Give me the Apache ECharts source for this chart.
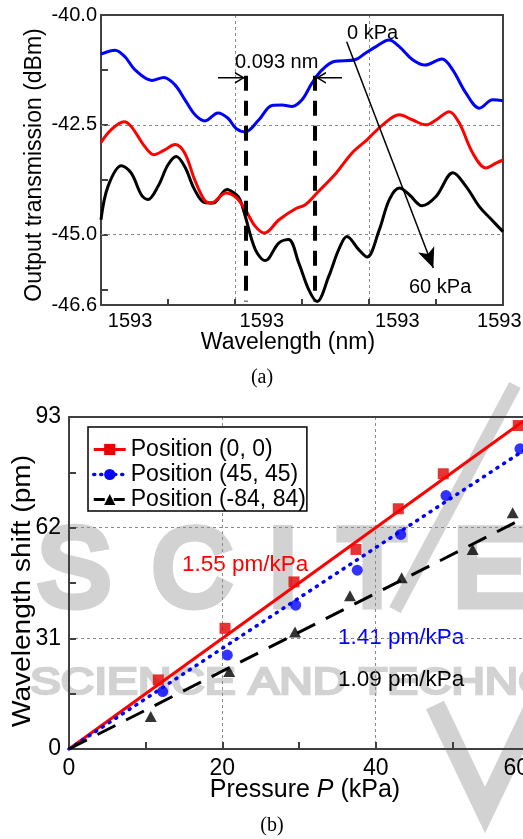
<!DOCTYPE html>
<html><head><meta charset="utf-8">
<script src="https://cdn.jsdelivr.net/npm/echarts@6/dist/echarts.min.js"></script>
<style>html,body{margin:0;padding:0;background:#fff}#c{width:523px;height:839px}</style>
</head><body><div id="c"></div>
<script>
// ---------- Panel (a): spectra (x = wavelength offset in nm) ----------
const wlTickLabels = ['1593', '1593', '1593', '1593'];
const wlTickLabelPos = [0.039, 0.216, 0.398, 0.535];
const dbmLabelValues = [-46.6, -45.0, -42.5, -40.0];
const dbmTickValues = [-46.25, -45.0, -43.75, -42.5, -41.25];
const dbmGridValues = [-42.5, -45.0];

const spec0kPa = [[0,-40.89],[0.0188,-40.80],[0.0322,-40.95],[0.0457,-41.25],[0.0685,-41.49],[0.0846,-41.42],[0.0994,-41.59],[0.1128,-41.93],[0.1263,-42.27],[0.1397,-42.41],[0.1572,-42.23],[0.1706,-42.35],[0.1813,-42.58],[0.1938,-42.66],[0.2118,-42.39],[0.2297,-42.06],[0.2431,-42.05],[0.2566,-42.08],[0.2700,-41.93],[0.2834,-41.55],[0.2969,-41.25],[0.3130,-41.06],[0.3412,-41.02],[0.3550,-40.87],[0.3694,-40.72],[0.3869,-40.57],[0.4007,-40.72],[0.4187,-41.02],[0.4352,-41.14],[0.4581,-41.00],[0.4724,-41.25],[0.4903,-41.78],[0.5084,-42.12],[0.5262,-41.93],[0.5400,-41.95]];
const specMid = [[0,-42.90],[0.0138,-42.61],[0.0309,-42.43],[0.0407,-42.54],[0.0587,-42.99],[0.0712,-43.18],[0.0856,-43.07],[0.0994,-42.95],[0.1124,-43.14],[0.1259,-43.75],[0.1393,-44.22],[0.1478,-44.28],[0.1679,-44.05],[0.1820,-44.16],[0.1938,-44.43],[0.2073,-44.81],[0.2196,-44.96],[0.2391,-44.66],[0.2613,-44.41],[0.2744,-44.32],[0.2901,-44.05],[0.3157,-43.60],[0.3372,-43.14],[0.3573,-42.84],[0.3784,-42.50],[0.4007,-42.27],[0.4187,-42.39],[0.4366,-42.50],[0.4500,-42.39],[0.4679,-42.20],[0.4813,-42.46],[0.4993,-43.14],[0.5172,-43.48],[0.5306,-43.37],[0.5400,-43.30]];
const spec60kPa = [[0,-44.66],[0.0094,-43.90],[0.0275,-43.43],[0.0407,-43.60],[0.0541,-44.09],[0.0631,-44.20],[0.0766,-43.90],[0.0900,-43.41],[0.1011,-43.22],[0.1124,-43.45],[0.1259,-43.98],[0.1393,-44.27],[0.1504,-44.28],[0.1693,-43.97],[0.1817,-44.09],[0.1867,-44.20],[0.1938,-44.58],[0.2073,-45.34],[0.2207,-45.59],[0.2387,-45.19],[0.2519,-45.11],[0.2656,-45.64],[0.2790,-46.25],[0.2902,-46.52],[0.3059,-45.95],[0.3193,-45.34],[0.3304,-45.04],[0.3462,-45.34],[0.3573,-45.51],[0.3738,-44.89],[0.3873,-44.20],[0.4010,-43.94],[0.4141,-44.09],[0.4312,-44.34],[0.4500,-44.13],[0.4728,-43.59],[0.4903,-43.90],[0.5082,-44.36],[0.5225,-44.62],[0.5400,-44.93]];

const dipLine0 = [[0.1948,-41.38],[0.1948,-46.52]];
const dipLine60 = [[0.2875,-41.38],[0.2875,-46.52]];
const arrowLeft = [[0.1572,-41.43],[0.1920,-41.43]];
const arrowRight = [[0.3237,-41.43],[0.2900,-41.43]];
const arrowShift = [[0.3300,-40.607],[0.4464,-45.757]];

// ---------- Panel (b): wavelength shift vs pressure ----------
const p00 = [11.65, 20.35, 29.35, 37.43, 42.95, 48.82, 58.6];
const s00 = [19.35, 33.8, 46.8, 55.9, 67.3, 77.1, 90.6];
const p45 = [12.22, 20.65, 29.57, 37.6, 43.26, 49.17, 58.82];
const s45 = [16.1, 26.3, 40.3, 50.1, 60.1, 71.0, 84.1];
const p84 = [10.66, 20.9, 29.48, 36.65, 43.39, 52.65, 57.87];
const s84 = [9.1, 21.7, 32.8, 42.9, 48.0, 55.9, 66.2];
const fit00 = [[0,0],[60,93]];
const fit45 = [[0,0],[60,84.6]];
const fit84 = [[0,0],[60,65.4]];
const names = ['Position (0, 0)', 'Position (45, 45)', 'Position (-84, 84)'];

const FONT = "'Liberation Sans', Arial, sans-serif";
const AX = '#404040';
const GRIDC = '#8a8a8a';
const WM = '#d2d2d2';
const zip = (a, b) => a.map((v, i) => [v, b[i]]);

const chart = echarts.init(document.getElementById('c'), null, {renderer: 'canvas'});

const frameLine = {show: true, onZero: false, lineStyle: {color: AX, width: 2}};
const gridLineStyle = {color: GRIDC, width: 1, type: [3, 3]};
const chevR = 'path://M0,0L10,6L0,12L0,10.2L7.2,6L0,1.8Z';
const chevL = 'path://M10,0L0,6L10,12L10,10.2L2.8,6L10,1.8Z';

// faint publisher watermark behind panel (b)
const wmLetters = [['S', 74, 575], ['C', 192, 575], ['I', 283, 575], ['T', 372, 575], ['E', 490, 575]];
const watermark = wmLetters.map(([t, x, y]) => ({type: 'text', x: x, y: y, z: -10, silent: true,
  style: {text: t, fill: WM, stroke: WM, lineWidth: 9, lineJoin: 'round', fontSize: 110, fontFamily: FONT,
    textAlign: 'center', textVerticalAlign: 'middle'}}))
  .concat([
    {type: 'text', x: 30, y: 684, z: -10, silent: true, scaleX: 1.25,
      style: {text: 'SCIENCE AND TECHNOLOGY', fill: WM, stroke: WM, lineWidth: 2.5, lineJoin: 'round', fontSize: 37, fontFamily: FONT,
        textAlign: 'left', textVerticalAlign: 'middle'}},
    {type: 'line', z: -10, silent: true, shape: {x1: 515, y1: 385, x2: 395, y2: 610}, style: {stroke: WM, lineWidth: 13}},
    {type: 'polyline', z: -10, silent: true, shape: {points: [[435, 705], [485, 810], [535, 705]]}, style: {stroke: WM, lineWidth: 20, fill: null}}
  ]);

const option = {
  animation: false,
  backgroundColor: '#fff',
  textStyle: {fontFamily: FONT},
  grid: [
    {left: 101, right: 20, top: 15, bottom: 534, containLabel: false, outerBoundsMode: 'none'},
    {left: 69, right: -6, top: 417, bottom: 90, containLabel: false, outerBoundsMode: 'none'}
  ],
  xAxis: [
    {gridIndex: 0, type: 'value', min: 0, max: 0.54, interval: 0.18, position: 'bottom',
      axisLine: frameLine,
      axisTick: {show: true, inside: true, length: 6, lineStyle: {color: AX, width: 2}},
      minorTick: {show: true, splitNumber: 2, length: 6, lineStyle: {color: AX, width: 2}},
      splitLine: {show: true, lineStyle: gridLineStyle},
      axisLabel: {show: true, customValues: wlTickLabelPos, formatter: (v) => wlTickLabels[wlTickLabelPos.indexOf(v)] || '1593',
        fontSize: 20, color: '#000', margin: 6, fontFamily: FONT}},
    {gridIndex: 0, type: 'value', min: 0, max: 0.54, position: 'top',
      axisLine: frameLine, axisTick: {show: false}, axisLabel: {show: false}, splitLine: {show: false}},
    {gridIndex: 1, type: 'value', min: 0, max: 60, interval: 20, position: 'bottom',
      axisLine: frameLine,
      axisTick: {show: true, inside: true, length: 7, lineStyle: {color: AX, width: 2}},
      minorTick: {show: true, splitNumber: 2, length: 7, lineStyle: {color: AX, width: 2}},
      splitLine: {show: true, lineStyle: gridLineStyle},
      axisLabel: {fontSize: 23, color: '#000', margin: 8, fontFamily: FONT, alignMaxLabel: 'right'}},
    {gridIndex: 1, type: 'value', min: 0, max: 60, position: 'top',
      axisLine: frameLine, axisTick: {show: false}, axisLabel: {show: false}, splitLine: {show: false}}
  ],
  yAxis: [
    {gridIndex: 0, type: 'value', min: -46.6, max: -40, position: 'left',
      axisLine: frameLine,
      axisTick: {show: true, inside: true, length: 7, customValues: dbmTickValues, lineStyle: {color: AX, width: 2}},
      splitLine: {show: false},
      axisLabel: {show: true, customValues: dbmLabelValues, formatter: (v) => v.toFixed(1),
        fontSize: 20, color: '#000', margin: 4, fontFamily: FONT}},
    {gridIndex: 0, type: 'value', min: -46.6, max: -40, position: 'right',
      axisLine: frameLine, axisTick: {show: false}, axisLabel: {show: false}, splitLine: {show: false}},
    {gridIndex: 1, type: 'value', min: 0, max: 93, interval: 31, position: 'left',
      axisLine: frameLine,
      axisTick: {show: true, inside: true, length: 7, lineStyle: {color: AX, width: 2}},
      minorTick: {show: true, splitNumber: 2, length: 7, lineStyle: {color: AX, width: 2}},
      splitLine: {show: true, lineStyle: gridLineStyle},
      axisLabel: {fontSize: 23, color: '#000', margin: 8, fontFamily: FONT}}
  ],
  legend: {
    data: [
      {name: names[0], lineStyle: {type: 'solid', width: 3}},
      {name: names[1], lineStyle: {type: [1, 6], cap: 'round', width: 3.5}},
      {name: names[2], lineStyle: {type: [11, 9], width: 3}}
    ],
    orient: 'vertical', left: 88, top: 427,
    itemWidth: 32, itemHeight: 14, itemGap: 2,
    padding: [11, 1, 0, 4],
    borderColor: '#000', borderWidth: 1.5, backgroundColor: '#fff',
    textStyle: {fontSize: 23, color: '#000', fontFamily: FONT},
    z: 10
  },
  series: [
    {type: 'line', xAxisIndex: 0, yAxisIndex: 0, data: [], silent: true,
      markLine: {silent: true, symbol: 'none', z: 1, label: {show: false}, lineStyle: gridLineStyle,
        data: dbmGridValues.map(v => ({yAxis: v}))}},
    {type: 'line', xAxisIndex: 0, yAxisIndex: 0, data: spec60kPa, smooth: 0.35, symbol: 'none',
      lineStyle: {color: '#000', width: 3}, itemStyle: {color: '#000'}},
    {type: 'line', xAxisIndex: 0, yAxisIndex: 0, data: specMid, smooth: 0.35, symbol: 'none',
      lineStyle: {color: '#ff0000', width: 3}, itemStyle: {color: '#ff0000'}},
    {type: 'line', xAxisIndex: 0, yAxisIndex: 0, data: spec0kPa, smooth: 0.35, symbol: 'none',
      lineStyle: {color: '#0000ff', width: 3}, itemStyle: {color: '#0000ff'}},
    {type: 'line', xAxisIndex: 0, yAxisIndex: 0, data: dipLine0, symbol: 'none',
      lineStyle: {color: '#000', width: 4, type: [15, 10]}},
    {type: 'line', xAxisIndex: 0, yAxisIndex: 0, data: dipLine60, symbol: 'none',
      lineStyle: {color: '#000', width: 4, type: [15, 10]}},
    {type: 'line', xAxisIndex: 0, yAxisIndex: 0, showSymbol: true, symbol: 'none',
      data: [arrowLeft[0], {value: arrowLeft[1], symbol: chevR, symbolSize: [10, 12], symbolOffset: [-4, 0]}],
      lineStyle: {color: '#000', width: 1.5}, itemStyle: {color: '#000'}},
    {type: 'line', xAxisIndex: 0, yAxisIndex: 0, showSymbol: true, symbol: 'none',
      data: [arrowRight[0], {value: arrowRight[1], symbol: chevL, symbolSize: [10, 12], symbolOffset: [4, 0]}],
      lineStyle: {color: '#000', width: 1.5}, itemStyle: {color: '#000'}},
    {type: 'line', xAxisIndex: 0, yAxisIndex: 0, data: [], silent: true,
      markLine: {silent: true, symbol: ['none', 'arrow'], symbolSize: [13, 20], label: {show: false},
        lineStyle: {color: '#000', width: 1.5, type: 'solid'},
        data: [[{coord: arrowShift[0]}, {coord: arrowShift[1]}]]}},
    {name: names[0], type: 'line', xAxisIndex: 2, yAxisIndex: 2, data: fit00, showSymbol: false, symbol: 'rect',
      lineStyle: {color: '#ff0000', width: 3}, itemStyle: {color: '#ee0000'}},
    {name: names[1], type: 'line', xAxisIndex: 2, yAxisIndex: 2, data: fit45, showSymbol: false, symbol: 'circle',
      lineStyle: {color: '#0000ff', width: 3.5, type: [1, 7], cap: 'round'}, itemStyle: {color: '#0000ff'}},
    {name: names[2], type: 'line', xAxisIndex: 2, yAxisIndex: 2, data: fit84, showSymbol: false, symbol: 'triangle',
      lineStyle: {color: '#000', width: 3, type: [20, 12]}, itemStyle: {color: '#000'}},
    {type: 'scatter', xAxisIndex: 2, yAxisIndex: 2, data: zip(p00, s00), symbol: 'rect', symbolSize: 11,
      itemStyle: {color: '#e00000'}},
    {type: 'scatter', xAxisIndex: 2, yAxisIndex: 2, data: zip(p45, s45), symbol: 'circle', symbolSize: 11,
      itemStyle: {color: '#0000ff'}},
    {type: 'scatter', xAxisIndex: 2, yAxisIndex: 2, data: zip(p84, s84), symbol: 'triangle', symbolSize: [12, 11],
      itemStyle: {color: '#000'}}
  ],
  graphic: watermark.concat([
    {type: 'text', x: 35, y: 165, rotation: Math.PI / 2, style: {text: 'Output transmission (dBm)', fill: '#000',
      font: "23px " + FONT, textAlign: 'center', textVerticalAlign: 'middle'}},
    {type: 'text', x: 288, y: 343, style: {text: 'Wavelength (nm)', fill: '#000',
      font: "23px " + FONT, textAlign: 'center', textVerticalAlign: 'middle'}},
    {type: 'text', x: 23, y: 591, rotation: Math.PI / 2, scaleX: 1.08, style: {text: 'Wavelength shift (pm)', fill: '#000',
      font: "26px " + FONT, textAlign: 'center', textVerticalAlign: 'middle'}},
    {type: 'text', x: 305, y: 790, style: {text: 'Pressure {i|P} (kPa)', fill: '#000',
      font: "25px " + FONT, textAlign: 'center', textVerticalAlign: 'middle',
      rich: {i: {fontStyle: 'italic', fontSize: 25, fontFamily: FONT, fill: '#000'}}}},
    {type: 'text', x: 235, y: 62, style: {text: '0.093 nm', fill: '#000', font: "20px " + FONT, textAlign: 'left', textVerticalAlign: 'middle'}},
    {type: 'text', x: 347, y: 33, style: {text: '0 kPa', fill: '#000', font: "20px " + FONT, textAlign: 'left', textVerticalAlign: 'middle'}},
    {type: 'text', x: 409, y: 287, style: {text: '60 kPa', fill: '#000', font: "20px " + FONT, textAlign: 'left', textVerticalAlign: 'middle'}},
    {type: 'text', x: 182, y: 565, style: {text: '1.55 pm/kPa', fill: '#ff0000', font: "22.5px " + FONT, textAlign: 'left', textVerticalAlign: 'middle'}},
    {type: 'text', x: 338, y: 638, style: {text: '1.41 pm/kPa', fill: '#0000ff', font: "22.5px " + FONT, textAlign: 'left', textVerticalAlign: 'middle'}},
    {type: 'text', x: 338, y: 680, style: {text: '1.09 pm/kPa', fill: '#000', font: "22.5px " + FONT, textAlign: 'left', textVerticalAlign: 'middle'}},
    {type: 'text', x: 262, y: 378, style: {text: '(a)', fill: '#000', font: "20px 'Liberation Serif', 'Times New Roman', serif", textAlign: 'center', textVerticalAlign: 'middle'}},
    {type: 'text', x: 272, y: 826, style: {text: '(b)', fill: '#000', font: "20px 'Liberation Serif', 'Times New Roman', serif", textAlign: 'center', textVerticalAlign: 'middle'}}
  ])
};
chart.setOption(option);
</script>
</body></html>
